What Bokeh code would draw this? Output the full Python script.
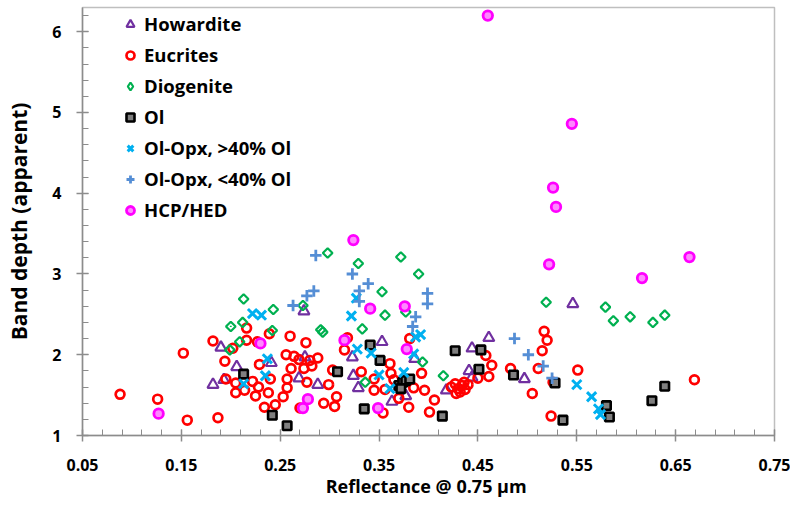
from bokeh.plotting import figure
from bokeh.models import Range1d, FixedTicker, PrintfTickFormatter, Legend, LegendItem
from bokeh.embed import file_html
from bokeh.resources import INLINE
import numpy as np

# ---- data ----
how_x = [0.182, 0.190, 0.193, 0.206, 0.241, 0.274, 0.275, 0.269, 0.288, 0.323, 0.324, 0.329,
         0.353, 0.363, 0.377, 0.386, 0.418, 0.441, 0.444, 0.444, 0.461, 0.497, 0.546]
how_y = [1.63, 2.09, 1.69, 1.85, 1.90, 2.54, 1.97, 1.71, 1.63, 1.97, 1.74, 1.59,
         2.16, 1.42, 1.49, 1.95, 1.56, 1.80, 1.72, 2.08, 2.21, 1.70, 2.63]

euc_x = [0.088, 0.126, 0.156, 0.152, 0.187, 0.182, 0.202, 0.216, 0.216, 0.227, 0.239, 0.194,
         0.229, 0.195, 0.205, 0.205, 0.214, 0.222, 0.228, 0.225, 0.240, 0.238, 0.245, 0.234,
         0.260, 0.256, 0.264, 0.269, 0.276, 0.280, 0.288, 0.261, 0.274, 0.282, 0.257, 0.277,
         0.299, 0.257, 0.253, 0.270, 0.294, 0.307, 0.305, 0.303, 0.318, 0.315, 0.332, 0.345,
         0.345, 0.354, 0.361, 0.362, 0.356, 0.365, 0.370, 0.385, 0.393, 0.396, 0.380, 0.406,
         0.401, 0.381, 0.423, 0.427, 0.430, 0.432, 0.434, 0.437, 0.440, 0.428, 0.436, 0.450,
         0.458, 0.464, 0.461, 0.483, 0.505, 0.517, 0.520, 0.515, 0.511, 0.526, 0.524, 0.551,
         0.669]
euc_y = [1.51, 1.45, 1.19, 2.02, 1.22, 2.17, 2.08, 2.33, 2.18, 2.16, 2.26, 1.92,
         1.88, 1.70, 1.65, 1.53, 1.56, 1.67, 1.60, 1.49, 1.70, 1.53, 1.38, 1.35,
         2.23, 2.00, 1.98, 1.94, 2.15, 1.93, 1.96, 1.83, 1.83, 1.86, 1.70, 1.66,
         1.63, 1.59, 1.48, 1.34, 1.40, 1.48, 1.36, 1.81, 2.21, 2.06, 1.79, 1.70,
         1.56, 1.28, 1.89, 1.77, 1.57, 1.69, 1.46, 1.59, 1.77, 1.56, 1.35, 1.44,
         1.29, 2.20, 1.60, 1.64, 1.58, 1.54, 1.62, 1.57, 1.63, 1.52, 1.66, 1.71,
         1.99, 1.87, 1.73, 1.83, 1.52, 2.29, 2.18, 2.05, 1.83, 1.66, 1.24, 1.81,
         1.69]

dio_x = [0.200, 0.213, 0.212, 0.209, 0.199, 0.243, 0.242, 0.273, 0.291, 0.293, 0.298, 0.329,
         0.372, 0.390, 0.353, 0.356, 0.377, 0.333, 0.336, 0.394, 0.415, 0.519, 0.579, 0.587,
         0.604, 0.627, 0.639]
dio_y = [2.35, 2.69, 2.40, 2.16, 2.06, 2.56, 2.30, 2.61, 2.31, 2.28, 3.26, 3.13,
         3.21, 3.00, 2.78, 2.49, 2.53, 2.32, 1.66, 1.91, 1.74, 2.65, 2.59, 2.42,
         2.47, 2.40, 2.49]

ol_x = [0.213, 0.242, 0.257, 0.308, 0.341, 0.351, 0.335, 0.370, 0.374, 0.377, 0.381, 0.372,
        0.414, 0.427, 0.453, 0.451, 0.486, 0.528, 0.536, 0.580, 0.583, 0.626, 0.639]
ol_y = [1.76, 1.25, 1.12, 1.79, 2.12, 1.93, 1.33, 1.62, 1.66, 1.68, 1.70, 1.58,
        1.24, 2.05, 2.06, 1.82, 1.75, 1.65, 1.19, 1.37, 1.23, 1.43, 1.61]

hi_x = [0.222, 0.231, 0.213, 0.237, 0.235, 0.322, 0.327, 0.328, 0.342, 0.350, 0.361, 0.375,
        0.387, 0.392, 0.385, 0.550, 0.565, 0.572, 0.574]
hi_y = [2.51, 2.49, 1.64, 1.95, 1.74, 2.48, 2.70, 2.07, 2.02, 1.75, 1.58, 1.78,
        2.22, 2.25, 2.01, 1.63, 1.48, 1.33, 1.26]

lo_x = [0.263, 0.277, 0.284, 0.286, 0.323, 0.339, 0.330, 0.330, 0.384, 0.387, 0.399, 0.399,
        0.487, 0.501, 0.516, 0.525]
lo_y = [2.61, 2.73, 2.79, 3.23, 3.00, 2.88, 2.79, 2.66, 2.35, 2.47, 2.76, 2.63,
        2.20, 2.00, 1.86, 1.71]

hcp_x = [0.127, 0.230, 0.278, 0.273, 0.315, 0.324, 0.341, 0.376, 0.378, 0.349, 0.460, 0.545,
         0.526, 0.529, 0.522, 0.616, 0.664]
hcp_y = [1.27, 2.14, 1.45, 1.34, 2.18, 3.42, 2.57, 2.60, 2.07, 1.34, 6.20, 4.86,
         4.07, 3.83, 3.12, 2.95, 3.21]

x_ticks = [0.05, 0.15, 0.25, 0.35, 0.45, 0.55, 0.65, 0.75]
y_ticks = [1, 2, 3, 4, 5, 6]
x_title = "Reflectance  @ 0.75 µm"
y_title = "Band depth (apparent)"

FONT = "Open Sans"

p = figure(width=790, height=500, output_backend="svg", toolbar_location=None,
           x_range=Range1d(0.05, 0.75), y_range=Range1d(1, 6.3),
           min_border_left=82, min_border_right=16, min_border_top=7, min_border_bottom=63)

p.xgrid.visible = False
p.ygrid.visible = False
p.outline_line_color = "#BFBFBF"
p.outline_line_width = 1.5
p.background_fill_color = "white"
p.border_fill_color = "white"

p.xaxis.ticker = FixedTicker(ticks=x_ticks,
                             minor_ticks=[round(0.05 + 0.02 * i, 2) for i in range(36)])
p.yaxis.ticker = FixedTicker(ticks=y_ticks,
                             minor_ticks=[round(1 + 0.2 * i, 1) for i in range(27)])
p.xaxis.formatter = PrintfTickFormatter(format="%.2f")
p.yaxis.formatter = PrintfTickFormatter(format="%d")

for ax in (p.xaxis[0], p.yaxis[0]):
    ax.axis_line_color = "#8C8C8C"
    ax.axis_line_width = 1.5
    ax.major_tick_line_color = "#8C8C8C"
    ax.minor_tick_line_color = "#8C8C8C"
    ax.major_tick_line_width = 1.5
    ax.minor_tick_line_width = 1
    ax.major_tick_in = 6
    ax.major_tick_out = 6
    ax.minor_tick_in = 6
    ax.minor_tick_out = 0
    ax.major_label_text_font = FONT
    ax.major_label_text_font_style = "bold"
    ax.major_label_text_font_size = "16px"
    ax.major_label_text_color = "#000000"
    ax.major_label_text_line_height = 1.0
    ax.axis_label_text_font = FONT
    ax.axis_label_text_font_style = "bold"
    ax.axis_label_text_color = "#000000"
    ax.axis_label_text_line_height = 1.0

p.xaxis.axis_label = x_title
p.yaxis.axis_label = y_title
p.xaxis.axis_label_text_font_size = "18px"
p.yaxis.axis_label_text_font_size = "21px"
p.xaxis.major_label_standoff = 17
p.yaxis.major_label_standoff = 15
p.xaxis.axis_label_standoff = 0
p.yaxis.axis_label_standoff = 16

r_how = p.scatter(how_x, how_y, marker="triangle", size=11, line_color="#7030A0",
                  line_width=2.2, fill_color=None)
r_euc = p.scatter(euc_x, euc_y, marker="circle", size=8.8, line_color="#FF0000",
                  line_width=2.7, fill_color=None)
r_dio = p.scatter(dio_x, dio_y, marker="square", angle=np.pi / 4, size=6.8,
                  line_color="#00B050", line_width=2.2, fill_color=None)
r_ol = p.scatter(ol_x, ol_y, marker="square", size=8.5, line_color="#000000",
                 line_width=2.6, fill_color="#7F7F7F")
r_hi = p.scatter(hi_x, hi_y, marker="x", size=13, line_color="#00B0F0", line_width=3)
r_lo = p.scatter(lo_x, lo_y, marker="cross", size=11.5, line_color="#558ED5", line_width=2.8)
r_hcp = p.scatter(hcp_x, hcp_y, marker="circle", size=9.5, line_color="#FF00FF",
                  line_width=2.8, fill_color="#FF88FF")
# legend swatch for the diamonds (legend glyphs are drawn without rotation);
# drawn at a negligible size on the first diogenite point
r_dio_key = p.scatter(dio_x[:1], dio_y[:1], marker="diamond", size=0.01,
                      line_color="#00B050", line_width=2.2, fill_color=None)

legend = Legend(items=[
    LegendItem(label="Howardite", renderers=[r_how]),
    LegendItem(label="Eucrites", renderers=[r_euc]),
    LegendItem(label="Diogenite", renderers=[r_dio_key]),
    LegendItem(label="Ol", renderers=[r_ol]),
    LegendItem(label="Ol-Opx, >40% Ol", renderers=[r_hi]),
    LegendItem(label="Ol-Opx, <40% Ol", renderers=[r_lo]),
    LegendItem(label="HCP/HED", renderers=[r_hcp]),
], location=(38, 213))
legend.border_line_color = None
legend.background_fill_alpha = 0
legend.label_text_font = FONT
legend.label_text_font_style = "bold"
legend.label_text_font_size = "18.5px"
legend.label_text_color = "#000000"
legend.glyph_width = 20
legend.glyph_height = 20
legend.label_height = 20
legend.label_standoff = 4
legend.spacing = 6
legend.padding = 0
legend.margin = 0
p.add_layout(legend)

open("out.html", "w").write(file_html(p, INLINE))
